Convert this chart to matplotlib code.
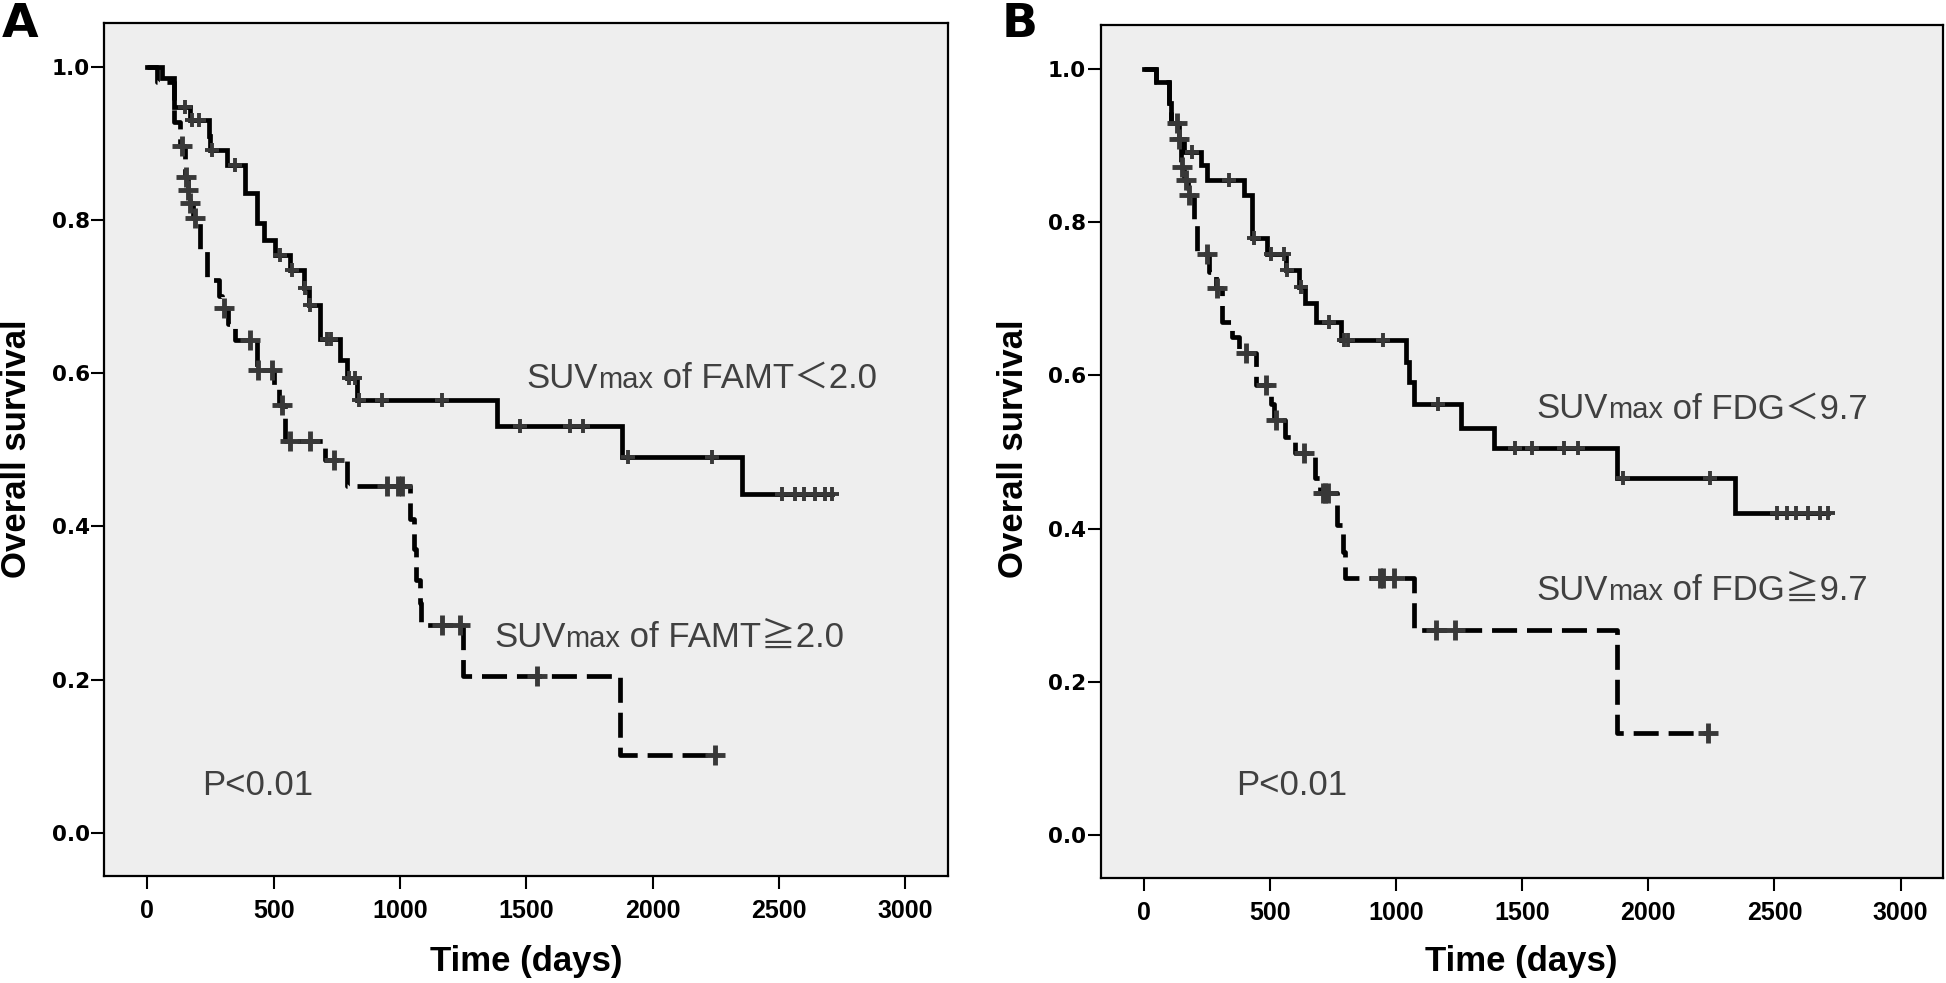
import numpy as np
import matplotlib
matplotlib.use("Agg")
import matplotlib.pyplot as plt
from matplotlib.offsetbox import TextArea, HPacker, AnnotationBbox

# ---- data (days, survival) ----
# Panel A, SUVmax of FAMT < 2.0 (solid)
famt_low_t = [58, 104, 170, 243, 250, 315, 388, 434, 460, 506, 566, 620, 640,
              684, 763, 790, 830, 1383, 1878, 2352]
famt_low_s = [0.985, 0.948, 0.931, 0.91, 0.891, 0.872, 0.835, 0.796, 0.774, 0.754,
              0.735, 0.711, 0.689, 0.645, 0.617, 0.593, 0.565, 0.531, 0.491, 0.442]
famt_low_cens = [150, 177, 203, 256, 348, 526, 572, 626, 645, 711, 727, 800, 820,
                 838, 928, 1166, 1476, 1673, 1726, 1904, 2234, 2511, 2564, 2597,
                 2643, 2682, 2709]

# Panel A, SUVmax of FAMT >= 2.0 (dashed)
famt_high_t = [40, 104, 130, 150, 160, 168, 180, 210, 236, 282, 295, 320, 348, 434,
               500, 520, 546, 704, 790, 1040, 1054, 1065, 1078, 1085, 1251, 1871]
famt_high_s = [0.98, 0.928, 0.896, 0.856, 0.839, 0.822, 0.802, 0.76, 0.721, 0.70,
               0.685, 0.664, 0.643, 0.604, 0.582, 0.558, 0.511, 0.487, 0.452, 0.41,
               0.37, 0.33, 0.30, 0.271, 0.204, 0.101]
famt_high_cens = [137, 155, 163, 170, 190, 302, 407, 440, 493, 533, 566, 645, 737,
                  948, 994, 1008, 1166, 1238, 1542, 2247]

# Panel B, SUVmax of FDG < 9.7 (solid)
fdg_low_t = [48, 100, 110, 140, 160, 226, 252, 398, 431, 490, 563, 615, 640, 682,
             782, 1040, 1053, 1073, 1258, 1390, 1875, 2345]
fdg_low_s = [0.983, 0.955, 0.93, 0.909, 0.892, 0.875, 0.855, 0.836, 0.779, 0.759,
             0.738, 0.716, 0.694, 0.670, 0.646, 0.618, 0.592, 0.563, 0.531, 0.505,
             0.466, 0.42]
fdg_low_cens = [144, 193, 338, 437, 504, 557, 570, 623, 735, 795, 812, 947, 1165,
                1470, 1540, 1665, 1720, 1900, 2243, 2509, 2548, 2587, 2634, 2681, 2712]

# Panel B, SUVmax of FDG >= 9.7 (dashed)
fdg_high_t = [48, 100, 110, 138, 150, 160, 175, 200, 213, 260, 285, 309, 351, 380,
              447, 504, 515, 560, 600, 680, 700, 766, 790, 800, 1071, 1875]
fdg_high_s = [0.983, 0.955, 0.93, 0.909, 0.872, 0.855, 0.836, 0.80, 0.759, 0.735,
              0.714, 0.670, 0.650, 0.629, 0.587, 0.563, 0.542, 0.52, 0.499, 0.466,
              0.446, 0.405, 0.37, 0.335, 0.267, 0.133]
fdg_high_cens = [133, 140, 153, 167, 180, 252, 292, 405, 484, 524, 634, 710, 720,
                 730, 938, 950, 993, 1157, 1235, 2236]

x_ticks = [0, 500, 1000, 1500, 2000, 2500, 3000]
y_ticks = [0.0, 0.2, 0.4, 0.6, 0.8, 1.0]

TXT = "#404040"
MARK = "#383838"
LABEL_FONT = ["Liberation Sans", "Noto Sans CJK JP", "DejaVu Sans"]


def km_curve(events, surv, censors):
    x = np.concatenate([[0], events, [max(censors[-1], events[-1])]])
    y = np.concatenate([[1.0], surv, [surv[-1]]])
    idx = np.searchsorted(x, censors, side="right") - 1
    return x, y, np.asarray(censors), y[idx]


def suv_label(ax, t, s, tracer, sign, value):
    props = dict(color=TXT, fontsize=25, family=LABEL_FONT)
    small = dict(props, fontsize=21)
    parts = [TextArea("SUV", textprops=props),
             TextArea("max", textprops=small),
             TextArea(f" of {tracer}{sign}{value}", textprops=props)]
    box = HPacker(children=parts, align="baseline", pad=0, sep=0)
    ab = AnnotationBbox(box, (t, s), xycoords="data", box_alignment=(0, 0),
                        frameon=False, pad=0)
    ax.add_artist(ab)


def draw_panel(ax, low, high):
    ax.set_facecolor("#eeeeee")
    x, y, cx, cy = km_curve(*low)
    ax.step(x, y, where="post", color="black", lw=3.4, solid_joinstyle="miter", zorder=3)
    ax.plot(cx, cy, ls="none", marker="+", ms=10, mew=2.8, color=MARK, zorder=4)

    x, y, cx, cy = km_curve(*high)
    ax.step(x, y, where="post", color="black", lw=3.4, ls=(0, (5.3, 2.1)),
            dash_capstyle="butt", zorder=3)
    ax.plot(cx, cy, ls="none", marker="+", ms=14, mew=3.5, color=MARK, zorder=4)

    ax.set_xlim(-170, 3167)
    ax.set_ylim(-0.0565, 1.0574)
    ax.set_xticks(x_ticks)
    ax.set_yticks(y_ticks)
    ax.set_yticklabels([f"{v:.1f}" for v in y_ticks])
    ax.tick_params(axis="x", direction="out", length=9.5, width=1.5, pad=7)
    ax.tick_params(axis="y", direction="out", length=9.5, width=1.5, pad=1)
    for lbl in ax.get_xticklabels():
        lbl.set_fontfamily("Liberation Sans")
        lbl.set_fontweight("bold")
        lbl.set_fontsize(18)
    for lbl in ax.get_yticklabels():
        lbl.set_fontfamily("DejaVu Sans")
        lbl.set_fontweight("bold")
        lbl.set_fontsize(15.5)
    for sp in ax.spines.values():
        sp.set_linewidth(1.6)


fig = plt.figure(figsize=(19.46, 9.83), dpi=100)
W, H = 1946, 983

ax_a = fig.add_axes([104.3 / W, 1 - 876 / H, 843.4 / W, 853.3 / H])
ax_b = fig.add_axes([1100.7 / W, 1 - 878.3 / H, 842.0 / W, 853.3 / H])

draw_panel(ax_a, (famt_low_t, famt_low_s, famt_low_cens),
           (famt_high_t, famt_high_s, famt_high_cens))
draw_panel(ax_b, (fdg_low_t, fdg_low_s, fdg_low_cens),
           (fdg_high_t, fdg_high_s, fdg_high_cens))

suv_label(ax_a, 1500, 0.572, "FAMT", "\uff1c", "2.0")
suv_label(ax_a, 1372, 0.233, "FAMT", "\u2267", "2.0")
suv_label(ax_b, 1556, 0.535, "FDG", "\uff1c", "9.7")
suv_label(ax_b, 1556, 0.298, "FDG", "\u2267", "9.7")

ax_a.text(217, 0.049, "P<0.01", color=TXT, fontsize=25, family=LABEL_FONT)
ax_b.text(366, 0.052, "P<0.01", color=TXT, fontsize=25, family=LABEL_FONT)

axis_font = dict(fontsize=25, fontweight="bold", family="Liberation Sans")
for cx, lx in [(526 / W, 17 / W), (1521.7 / W, 1013 / W)]:
    fig.text(cx, 1 - 961 / H, "Time (days)", ha="center", va="center", **axis_font)
    fig.text(lx, 1 - 449 / H, "Overall survival", ha="center", va="center",
             rotation=90, **axis_font)

fig.text(2 / W, 1 - 2 / H, "A", ha="left", va="top", fontsize=34,
         fontweight="bold", family="DejaVu Sans")
fig.text(1002 / W, 1 - 2 / H, "B", ha="left", va="top", fontsize=34,
         fontweight="bold", family="DejaVu Sans")

fig.savefig("out.png", dpi=100, facecolor="white")
